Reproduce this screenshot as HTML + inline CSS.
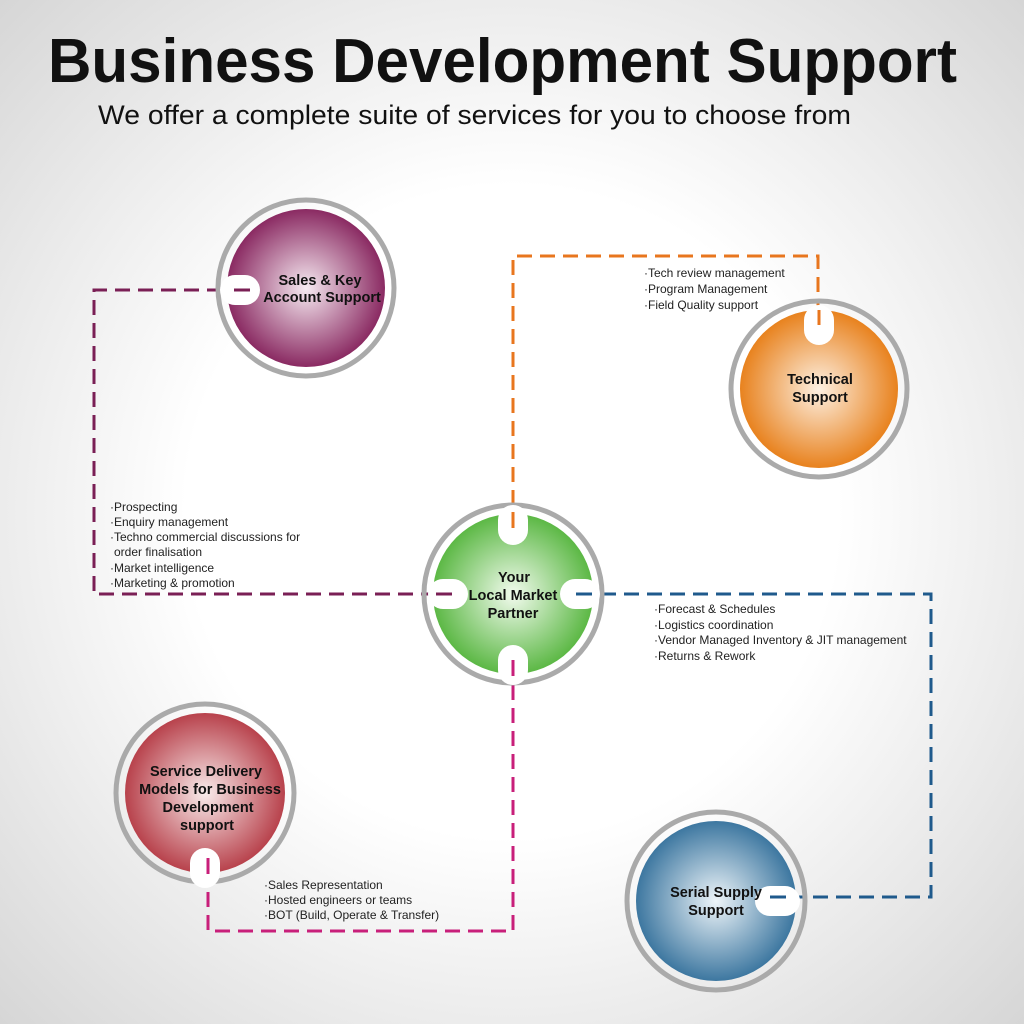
<!DOCTYPE html>
<html><head><meta charset="utf-8"><style>
html,body{margin:0;padding:0}
body{width:1024px;height:1024px;overflow:hidden;background:radial-gradient(circle at 50% 50%,#fff 0%,#fff 45%,#d6d6d6 100%);}
svg{position:absolute;left:0;top:0}
.t{font-family:"Liberation Sans",Arial,sans-serif;font-weight:bold;fill:#111;text-anchor:middle;font-size:14.5px}
.s{font-family:"Liberation Sans",Arial,sans-serif;fill:#222;font-size:12px}
</style></head><body>
<svg width="1024" height="1024" viewBox="0 0 1024 1024">
<defs>
<radialGradient id="gp"><stop offset="0" stop-color="#f6eaf1"/><stop offset="1" stop-color="#8a2a62"/></radialGradient>
<radialGradient id="go"><stop offset="0" stop-color="#fdf0e2"/><stop offset="1" stop-color="#e8821e"/></radialGradient>
<radialGradient id="gg"><stop offset="0" stop-color="#f2fbee"/><stop offset="1" stop-color="#5cb845"/></radialGradient>
<radialGradient id="gr"><stop offset="0" stop-color="#f9ecec"/><stop offset="1" stop-color="#b8424c"/></radialGradient>
<radialGradient id="gb"><stop offset="0" stop-color="#eef5f9"/><stop offset="1" stop-color="#3d77a0"/></radialGradient>
</defs>
<text x="48" y="82" font-family="Liberation Sans,Arial,sans-serif" font-weight="bold" font-size="62" fill="#111" textLength="909" lengthAdjust="spacingAndGlyphs">Business Development Support</text>
<text x="98" y="124" font-family="Liberation Sans,Arial,sans-serif" font-size="27" fill="#111" textLength="753" lengthAdjust="spacingAndGlyphs">We offer a complete suite of services for you to choose from</text>

<g fill="none" stroke-width="3" stroke-dasharray="15,8">
<path d="M245 290 H94 V594 H450" stroke="#7a1f55"/>
<path d="M513 528 V256 H818 V325" stroke="#e8761e"/>
<path d="M578 594 H931 V897 H775" stroke="#1f5a8c"/>
<path d="M513 662 V931 H208 V860" stroke="#c81f7a"/>
</g>

<g stroke="#aaa" stroke-width="5" fill="none">
<circle cx="306" cy="288" r="88"/>
<circle cx="819" cy="389" r="88"/>
<circle cx="513" cy="594" r="89"/>
<circle cx="205" cy="793" r="89"/>
<circle cx="716" cy="901" r="89"/>
</g>
<circle cx="306" cy="288" r="79" fill="url(#gp)"/>
<circle cx="819" cy="389" r="79" fill="url(#go)"/>
<circle cx="513" cy="594" r="80" fill="url(#gg)"/>
<circle cx="205" cy="793" r="80" fill="url(#gr)"/>
<circle cx="716" cy="901" r="80" fill="url(#gb)"/>

<g fill="#fff">
<rect x="220" y="275" width="40" height="30" rx="15"/>
<rect x="804" y="305" width="30" height="40" rx="15"/>
<rect x="498" y="505" width="30" height="40" rx="15"/>
<rect x="428" y="579" width="40" height="30" rx="15"/>
<rect x="560" y="579" width="40" height="30" rx="15"/>
<rect x="498" y="645" width="30" height="40" rx="15"/>
<rect x="190" y="848" width="30" height="40" rx="15"/>
<rect x="755" y="886" width="45" height="30" rx="15"/>
</g>
<g stroke-width="3">
<path d="M234 290 H250" stroke="#7a1f55"/>
<path d="M819 310 V325" stroke="#e8761e"/>
<path d="M513 512 V528" stroke="#e8761e"/>
<path d="M436 594 H452" stroke="#7a1f55"/>
<path d="M576 594 H592" stroke="#1f5a8c"/>
<path d="M513 660 V676" stroke="#c81f7a"/>
<path d="M208 858 V874" stroke="#c81f7a"/>
<path d="M770 897 H786" stroke="#1f5a8c"/>
</g>

<text class="t" x="320" y="285">Sales &amp; Key</text>
<text class="t" x="322" y="302">Account Support</text>
<text class="t" x="820" y="384">Technical</text>
<text class="t" x="820" y="402">Support</text>
<text class="t" x="514" y="582">Your</text>
<text class="t" x="513" y="600">Local Market</text>
<text class="t" x="513" y="618">Partner</text>
<text class="t" x="206" y="776">Service Delivery</text>
<text class="t" x="210" y="794">Models for Business</text>
<text class="t" x="208" y="812">Development</text>
<text class="t" x="207" y="830">support</text>
<text class="t" x="716" y="897">Serial Supply</text>
<text class="t" x="716" y="915">Support</text>

<g class="s">
<text x="644" y="277">·Tech review management</text>
<text x="644" y="293">·Program Management</text>
<text x="644" y="309">·Field Quality support</text>
<text x="110" y="511">·Prospecting</text>
<text x="110" y="526">·Enquiry management</text>
<text x="110" y="541">·Techno commercial discussions for</text>
<text x="114" y="556">order finalisation</text>
<text x="110" y="572">·Market intelligence</text>
<text x="110" y="587">·Marketing &amp; promotion</text>
<text x="654" y="613">·Forecast &amp; Schedules</text>
<text x="654" y="629">·Logistics coordination</text>
<text x="654" y="644">·Vendor Managed Inventory &amp; JIT management</text>
<text x="654" y="660">·Returns &amp; Rework</text>
<text x="264" y="889">·Sales Representation</text>
<text x="264" y="904">·Hosted engineers or teams</text>
<text x="264" y="919">·BOT (Build, Operate &amp; Transfer)</text>
</g>
</svg>
</body></html>
